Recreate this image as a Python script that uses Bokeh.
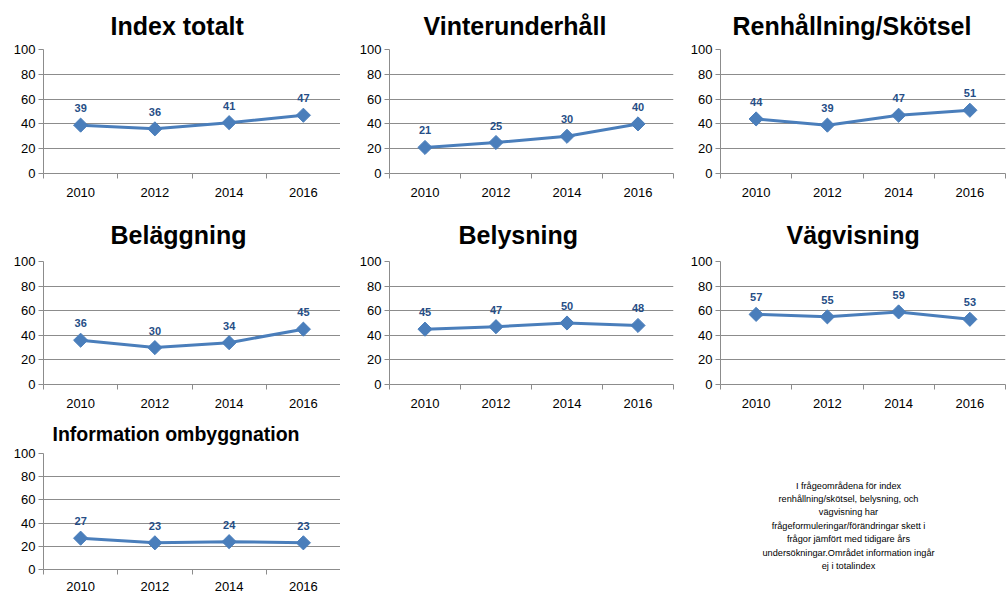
from bokeh.plotting import figure
from bokeh.models import Range1d, FixedTicker, Label, Title
from bokeh.layouts import column, row
from bokeh.embed import file_html
from bokeh.resources import INLINE
from bokeh.core.properties import value

# ---- data ----
years = ["2010", "2012", "2014", "2016"]

index_totalt = [39, 36, 41, 47]
vinterunderhall = [21, 25, 30, 40]
renhallning = [44, 39, 47, 51]
belaggning = [36, 30, 34, 45]
belysning = [45, 47, 50, 48]
vagvisning = [57, 55, 59, 53]
information = [27, 23, 24, 23]

titles = ["Index totalt", "Vinterunderhåll", "Renhållning/Skötsel",
          "Beläggning", "Belysning", "Vägvisning", "Information ombyggnation"]

y_ticks = [0, 20, 40, 60, 80, 100]

note = ("I frågeområdena för index\n"
        "renhållning/skötsel, belysning, och\n"
        "vägvisning har\n"
        "frågeformuleringar/förändringar skett i\n"
        "frågor jämfört med tidigare års\n"
        "undersökningar.Området information ingår\n"
        "ej i totalindex")

FONT = "Liberation Sans"
LINE = "#4A7EBB"
LABEL = "#264E86"
GRID = "#8C8C8C"


def panel(title, vals, width, height, left, right, top, bottom,
          title_off, title_stand, title_size="25px", xstand=9):
    n = len(years)
    xs = [i + 0.5 for i in range(n)]
    p = figure(width=width, height=height, output_backend="svg", toolbar_location=None,
               x_range=Range1d(0, n), y_range=Range1d(0, 100),
               min_border_left=left, min_border_right=right,
               min_border_top=top, min_border_bottom=bottom,
               title=Title(text=title, align="left", offset=title_off,
                           standoff=title_stand, text_font=FONT,
                           text_font_style="bold", text_font_size=title_size,
                           text_color="black"))
    p.outline_line_color = None
    p.background_fill_color = "white"
    p.border_fill_color = "white"

    # x axis
    xa = p.xaxis[0]
    xa.ticker = FixedTicker(ticks=xs, minor_ticks=list(range(n + 1)))
    xa.major_label_overrides = {x: y for x, y in zip(xs, years)}
    xa.major_tick_in = 0
    xa.major_tick_out = 0
    xa.minor_tick_in = 0
    xa.minor_tick_out = 5
    xa.minor_tick_line_color = GRID
    xa.axis_line_color = GRID
    xa.major_label_text_font = FONT
    xa.major_label_text_font_size = "13px"
    xa.major_label_text_color = "black"
    xa.major_label_standoff = xstand

    # y axis
    ya = p.yaxis[0]
    ya.ticker = FixedTicker(ticks=y_ticks)
    ya.major_tick_in = 0
    ya.major_tick_out = 5
    ya.minor_tick_line_color = None
    ya.major_tick_line_color = GRID
    ya.axis_line_color = GRID
    ya.major_label_text_font = FONT
    ya.major_label_text_font_size = "13px"
    ya.major_label_text_color = "black"
    ya.major_label_standoff = 3

    p.xgrid.grid_line_color = None
    p.ygrid.ticker = FixedTicker(ticks=y_ticks)
    p.ygrid.grid_line_color = GRID
    p.ygrid.grid_line_width = 1

    p.line(xs, vals, line_color=LINE, line_width=3)
    p.scatter(xs, vals, marker="square", angle=0.7853981634, size=10,
              fill_color=LINE, line_color=LINE)
    p.text(xs, vals, text=[str(v) for v in vals], text_align="center",
           text_baseline="middle", y_offset=-17, text_font=value(FONT),
           text_font_style="bold", text_font_size="11px", text_color=LABEL)
    return p


r1 = [
    panel(titles[0], index_totalt, 340, 205, 43, 0, 49, 32, 67, 19),
    panel(titles[1], vinterunderhall, 340, 205, 49, 7, 49, 32, 34, 19),
    panel(titles[2], renhallning, 326, 205, 40, 1, 49, 32, 12, 19),
]
r2 = [
    panel(titles[3], belaggning, 340, 205, 43, 0, 55, 26, 67, 26),
    panel(titles[4], belysning, 340, 205, 49, 7, 55, 26, 69, 26),
    panel(titles[5], vagvisning, 326, 205, 40, 1, 55, 26, 66, 26),
]
info = panel(titles[6], information, 340, 184, 43, 0, 43, 25, 9, 17,
             title_size="19.5px", xstand=7)

nf = figure(width=666, height=184, output_backend="svg", toolbar_location=None,
            x_range=Range1d(0, 1), y_range=Range1d(0, 1),
            x_axis_location=None, y_axis_location=None,
            min_border=0, title=None)
nf.grid.grid_line_color = None
nf.outline_line_color = None
nf.add_layout(Label(x=508, y=114, x_units="screen", y_units="screen",
                    text=note, text_align="center", text_baseline="top",
                    text_font=FONT, text_font_size="9.2px", text_color="black",
                    text_line_height=1.34))

layout = column(row(*r1), row(*r2), row(info, column(nf)))

open("out.html", "w").write(file_html(layout, INLINE))
